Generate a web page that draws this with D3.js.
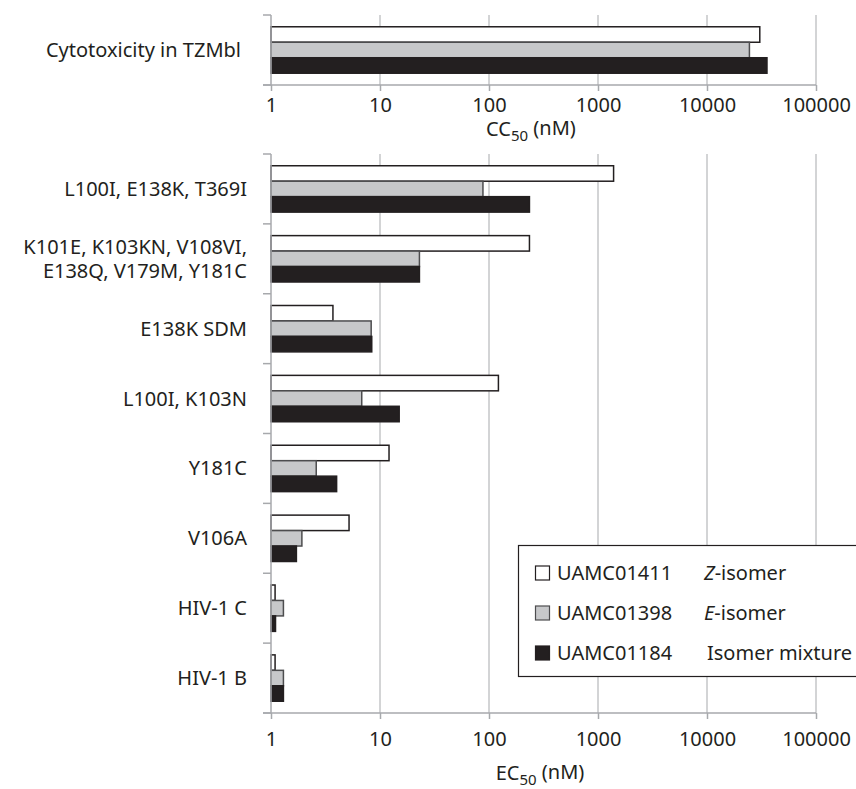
<!DOCTYPE html>
<html>
<head>
<meta charset="utf-8">
<script src="https://cdn.jsdelivr.net/npm/d3@7"></script>
<style>
  body { margin: 0; background: #fff; }
  text { font-family: "Noto Sans", sans-serif; fill: #231f20; }
  .grid line { stroke: #a7a9ac; stroke-width: 1; }
  .axis line, .axis path { stroke: #a7a9ac; stroke-width: 1.5; }
</style>
</head>
<body>
<div id="chart"></div>
<script>
// data (nM, log axis)
var compounds = ["UAMC01411", "UAMC01398", "UAMC01184"];
var isomers = ["Z|-isomer", "E|-isomer", "|Isomer mixture"];
var fills = ["#ffffff", "#c7c8ca", "#231f20"];
var strokes = ["#231f20", "#4d4d4f", "#231f20"];

var cytoLabel = ["Cytotoxicity in TZMbl"];
var cytoValues = [[30500, 24500, 35500]];

var strains = [
  "L100I, E138K, T369I",
  "K101E, K103KN, V108VI,|E138Q, V179M, Y181C",
  "E138K SDM",
  "L100I, K103N",
  "Y181C",
  "V106A",
  "HIV-1 C",
  "HIV-1 B"
];
var z411 = [1390, 235, 3.7, 122, 12.1, 5.2, 1.09, 1.09];
var e398 = [88, 23, 8.3, 6.8, 2.6, 1.92, 1.3, 1.3];
var mix184 = [235, 23, 8.4, 15, 4.0, 1.71, 1.1, 1.3];
var tickValues = [1, 10, 100, 1000, 10000, 100000];

var svgWidth = 856, svgHeight = 789;

var svg = d3.select("#chart")
  .append("svg")
  .attr("width", svgWidth)
  .attr("height", svgHeight);

var x = d3.scaleLog()
  .domain([1, 100000])
  .range([271, 816]);

// draws one panel: grid, bars, axes and category labels
function drawPanel(cats, values, top, bottom, axisLabel, labelX, tickPad) {
  var g = svg.append("g");

  var y = d3.scaleBand()
    .domain(cats)
    .range([top, bottom]);

  var ySub = d3.scaleBand()
    .domain(d3.range(3))
    .range([0, y.bandwidth()])
    .paddingOuter(0.76);

  // vertical grid lines
  g.append("g")
    .attr("class", "grid")
    .selectAll("line")
    .data(tickValues.slice(1))
    .enter()
    .append("line")
    .attr("x1", d => x(d))
    .attr("x2", d => x(d))
    .attr("y1", top)
    .attr("y2", bottom);

  // bars
  var groups = g.append("g")
    .selectAll("g")
    .data(cats)
    .enter()
    .append("g")
    .attr("transform", d => `translate(0, ${y(d)})`);

  groups.selectAll("rect")
    .data((d, i) => values[i].map((v, j) => ({ v: v, j: j })))
    .enter()
    .append("rect")
    .attr("x", x(1))
    .attr("y", d => ySub(d.j))
    .attr("width", d => x(d.v) - x(1))
    .attr("height", ySub.bandwidth())
    .attr("fill", d => fills[d.j])
    .attr("stroke", d => strokes[d.j])
    .attr("stroke-width", 1.5);

  // bottom axis
  var bottomAxis = d3.axisBottom(x)
    .tickValues(tickValues)
    .tickFormat(d3.format("d"))
    .tickSizeInner(6)
    .tickSizeOuter(0)
    .tickPadding(tickPad);

  var ax = g.append("g")
    .attr("class", "axis")
    .attr("transform", `translate(0, ${bottom})`)
    .call(bottomAxis);
  ax.select(".domain").attr("d", `M${x(1) - 8},0H${x(100000)}`);
  ax.selectAll("text")
    .style("font-size", "20px")
    .style("font-family", "Noto Sans, sans-serif")
    .attr("fill", "#231f20");

  // left axis: ticks between categories
  var yEdges = cats.map(d => y(d)).concat([bottom]);
  g.append("g")
    .attr("class", "axis")
    .call(sel => {
      sel.append("line")
        .attr("x1", x(1)).attr("x2", x(1))
        .attr("y1", top).attr("y2", bottom);
      sel.selectAll(".tk")
        .data(yEdges)
        .enter()
        .append("line")
        .attr("class", "tk")
        .attr("x1", x(1) - 8).attr("x2", x(1))
        .attr("y1", d => d).attr("y2", d => d);
    });

  // category labels (one text per line)
  cats.forEach(function (d) {
    var lines = d.split("|");
    var cy = y(d) + y.bandwidth() / 2;
    lines.forEach(function (line, i) {
      g.append("text")
        .attr("x", labelX)
        .attr("y", cy + (i - (lines.length - 1) / 2) * 24)
        .attr("dy", "0.35em")
        .attr("text-anchor", "end")
        .style("font-size", "20px")
        .text(line);
    });
  });

  // axis title with subscript
  var title = g.append("text")
    .attr("x", axisLabel.x)
    .attr("y", axisLabel.y)
    .attr("text-anchor", "middle")
    .style("font-size", "20px");
  title.append("tspan").text(axisLabel.main);
  title.append("tspan").attr("dy", "0.3em").style("font-size", "15px").text("50");
  title.append("tspan").attr("dy", "-0.3em").text(" (nM)");
}

drawPanel(cytoLabel, cytoValues, 15, 85, { main: "CC", x: 531, y: 136 }, 241, 7);

var strainValues = strains.map((d, i) => [z411[i], e398[i], mix184[i]]);
drawPanel(strains, strainValues, 154, 713, { main: "EC", x: 540, y: 780 }, 247, 13);

// legend
var legend = svg.append("g");
legend.append("rect")
  .attr("x", 518.5)
  .attr("y", 545.5)
  .attr("width", 360)
  .attr("height", 131)
  .attr("fill", "#fff")
  .attr("stroke", "#231f20")
  .attr("stroke-width", 1.2);

var rows = legend.selectAll(".row")
  .data(compounds)
  .enter()
  .append("g")
  .attr("class", "row")
  .attr("transform", (d, i) => `translate(0, ${573 + i * 40})`);

rows.append("rect")
  .attr("x", 535.5)
  .attr("y", -7)
  .attr("width", 14)
  .attr("height", 14)
  .attr("fill", (d, i) => fills[i])
  .attr("stroke", (d, i) => strokes[i])
  .attr("stroke-width", 1.2);

rows.append("text")
  .attr("x", 557)
  .attr("dy", "0.35em")
  .style("font-size", "20px")
  .text(d => d);

rows.append("text")
  .attr("x", (d, i) => i === 2 ? 707 : 704)
  .attr("dy", "0.35em")
  .style("font-size", "20px")
  .each(function (d, i) {
    var parts = isomers[i].split("|");
    var t = d3.select(this);
    if (parts[0]) t.append("tspan").style("font-style", "italic").text(parts[0]);
    t.append("tspan").text(parts[1]);
  });
</script>
</body>
</html>
